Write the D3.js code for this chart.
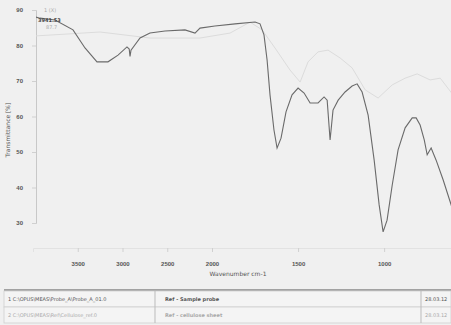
<!DOCTYPE html>
<html>
<head>
<meta charset="utf-8">
<script src="https://cdn.jsdelivr.net/npm/d3@7"></script>
<style>
  html, body { margin: 0; padding: 0; background: #f0f0f0; }
  svg { display: block; font-family: "DejaVu Sans", sans-serif; }
</style>
</head>
<body>
<div id="app"></div>
<script>
const width = 451;
const height = 325;

// spectrum 1 (dark): wavenumber, transmittance
const wave1 = [4000, 3922, 3754, 3553, 3419, 3285, 3162, 3050, 2950, 2925, 2916, 2905, 2804, 2693, 2525, 2302, 2190, 2134, 1983, 1866, 1750, 1721, 1698, 1680, 1663, 1640, 1622, 1599, 1570, 1535, 1500, 1465, 1430, 1384, 1349, 1331, 1314, 1297, 1267, 1227, 1186, 1157, 1128, 1093, 1058, 1029, 1006, 983, 953, 919, 878, 837, 814, 791, 767, 750, 727, 698, 657, 600];
const trans1 = [88.2, 87.7, 87.2, 84.4, 79.3, 75.4, 75.4, 77.3, 79.6, 79.0, 76.9, 78.7, 82.1, 83.5, 84.1, 84.4, 83.5, 84.9, 85.5, 86.1, 86.6, 86.1, 83.0, 75.9, 66.1, 56.2, 51.1, 53.9, 61.3, 66.1, 68.0, 66.6, 63.8, 63.8, 65.5, 64.6, 53.4, 61.8, 64.6, 66.9, 68.6, 69.2, 66.9, 60.4, 47.7, 35.1, 27.5, 30.8, 40.7, 50.6, 56.8, 59.6, 59.6, 57.6, 53.4, 49.2, 51.1, 47.7, 42.1, 33.5];

// spectrum 2 (light)
const wave2 = [4000, 3966, 3251, 2693, 2134, 1895, 1779, 1709, 1634, 1547, 1488, 1442, 1384, 1326, 1256, 1186, 1110, 1035, 953, 878, 808, 733, 674, 600];
const trans2 = [82.8, 82.7, 83.8, 82.1, 82.1, 83.5, 86.6, 84.4, 79.3, 73.1, 69.7, 75.4, 78.2, 78.7, 76.5, 73.7, 67.5, 65.2, 68.9, 70.8, 72.0, 70.3, 70.8, 66.1];

const xTicks = [3500, 3000, 2500, 2000, 1500, 1000];
const yTicks = [30, 40, 50, 60, 70, 80, 90];

const tableRows = [
  ['1  C:\\OPUS\\MEAS\\Probe_A\\Probe_A_01.0', 'Ref - Sample probe', '28.03.12'],
  ['2  C:\\OPUS\\MEAS\\Ref\\Cellulose_ref.0', 'Ref - cellulose sheet', '28.03.12']
];

const svg = d3.select('#app').append('svg')
  .attr('width', width)
  .attr('height', height);

svg.append('rect')
  .attr('width', width)
  .attr('height', height)
  .attr('fill', '#f0f0f0');

const plot = { left: 36, right: 451, top: 2, bottom: 248 };

// split wavenumber scale, expanded below 2000
const x = d3.scaleLinear()
  .domain([4000, 2000, 600])
  .range([33, 212, 453]);

const y = d3.scaleLinear()
  .domain([30, 90])
  .range([223, 10]);

svg.append('clipPath')
  .attr('id', 'clip')
  .append('rect')
  .attr('x', plot.left)
  .attr('y', plot.top)
  .attr('width', plot.right - plot.left)
  .attr('height', plot.bottom - plot.top);

// axes
const xAxis = svg.append('g')
  .attr('transform', `translate(0,${plot.bottom})`)
  .call(d3.axisBottom(x).tickValues(xTicks).tickFormat(d3.format('d')).tickSize(4).tickPadding(10));

const yAxis = svg.append('g')
  .attr('transform', `translate(${plot.left},0)`)
  .call(d3.axisLeft(y).tickValues(yTicks).tickSize(4).tickPadding(9));

[xAxis, yAxis].forEach(a => {
  a.select('.domain').attr('stroke', '#c8c8c8');
  a.selectAll('.tick line').attr('stroke', '#d0d0d0');
  a.selectAll('.tick text')
    .attr('fill', '#555')
    .attr('font-size', 6)
    .attr('font-weight', 'bold');
});
xAxis.select('.domain').attr('stroke', '#e2e2e2');

svg.append('text')
  .attr('x', 238)
  .attr('y', 276)
  .attr('text-anchor', 'middle')
  .attr('font-size', 6)
  .attr('fill', '#555')
  .text('Wavenumber cm-1');

svg.append('text')
  .attr('transform', 'translate(10,130) rotate(-90)')
  .attr('text-anchor', 'middle')
  .attr('font-size', 6)
  .attr('fill', '#555')
  .text('Transmittance [%]');

const line = d3.line()
  .x(d => x(d[0]))
  .y(d => y(d[1]));

const g = svg.append('g').attr('clip-path', 'url(#clip)');

g.append('path')
  .datum(d3.zip(wave2, trans2))
  .attr('d', line)
  .attr('fill', 'none')
  .attr('stroke', '#dcdcdc')
  .attr('stroke-width', 1);

g.append('path')
  .datum(d3.zip(wave1, trans1))
  .attr('d', line)
  .attr('fill', 'none')
  .attr('stroke', '#6a6a6a')
  .attr('stroke-width', 1.1);

// cursor readout
const ro = svg.append('g').attr('font-size', 5);
ro.append('text').attr('x', 44).attr('y', 12).attr('fill', '#aaa').text('1 (X)');
ro.append('text').attr('x', 38).attr('y', 22).attr('fill', '#444')
  .attr('font-weight', 'bold').text('3941.53');
ro.append('text').attr('x', 46).attr('y', 29).attr('fill', '#aaa').text('87.7');

// bottom table
const table = svg.append('g');
table.append('line')
  .attr('x1', 4).attr('x2', width)
  .attr('y1', 290).attr('y2', 290)
  .attr('stroke', '#888').attr('stroke-width', 1.5);

const rowY = d3.scaleBand().domain([0, 1]).range([291, 323]);
const colX = [4, 155, 421];

tableRows.forEach((row, i) => {
  table.append('rect')
    .attr('x', 4).attr('y', rowY(i))
    .attr('width', width - 4).attr('height', rowY.bandwidth())
    .attr('fill', '#f4f4f4').attr('stroke', '#cfcfcf').attr('stroke-width', 0.8);
  row.forEach((txt, j) => {
    table.append('text')
      .attr('x', colX[j] + (j === 1 ? 10 : 4))
      .attr('y', rowY(i) + rowY.bandwidth() / 2 + 2)
      .attr('font-size', 5)
      .attr('font-weight', j === 1 ? 'bold' : 'normal')
      .attr('fill', i === 0 ? '#555' : '#aaa')
      .text(txt);
  });
});
colX.slice(1).forEach(cx => {
  table.append('line')
    .attr('x1', cx).attr('x2', cx)
    .attr('y1', 291).attr('y2', 323)
    .attr('stroke', '#bbb');
});
</script>
</body>
</html>
